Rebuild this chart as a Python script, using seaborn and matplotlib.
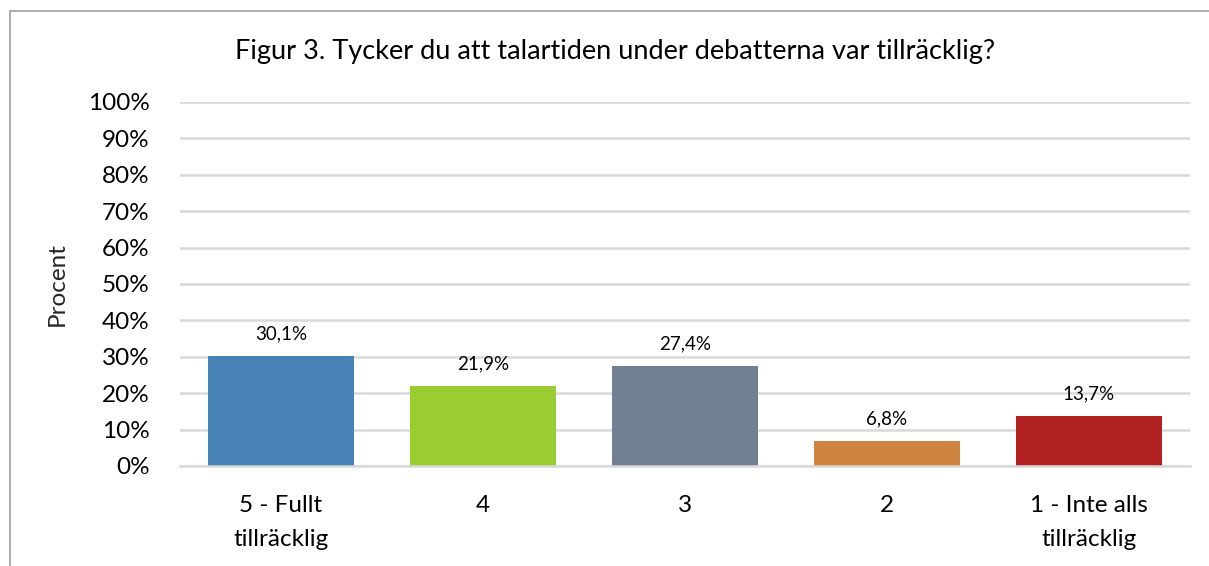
import matplotlib
matplotlib.use("Agg")
import matplotlib.pyplot as plt
import seaborn as sns
import pandas as pd
from matplotlib.ticker import FuncFormatter
from matplotlib.lines import Line2D

categories = ["5 - Fullt\ntillräcklig", "4", "3", "2", "1 - Inte alls\ntillräcklig"]
values = [30.1, 21.9, 27.4, 6.8, 13.7]
value_labels = ["30,1%", "21,9%", "27,4%", "6,8%", "13,7%"]
colors = ["#4682B4", "#9ACD32", "#708090", "#CD853F", "#B22222"]
title = "Figur 3. Tycker du att talartiden under debatterna var tillräcklig?"
ylabel = "Procent"

sns.set_theme(style="white")
plt.rcParams["font.family"] = ["Lato", "DejaVu Sans"]

df = pd.DataFrame({"cat": categories, "val": values})

fig = plt.figure(figsize=(12.09, 5.66), dpi=100)
ax = fig.add_axes([180/1209, 1-466/566, 1010/1209, 364/566])

sns.barplot(data=df, x="cat", y="val", hue="cat", palette=colors, legend=False,
            width=0.72, ax=ax, saturation=1, linewidth=0, edgecolor="none")

ax.set_ylim(0, 100)
ax.set_xlim(-0.5, 4.5)
ax.set_yticks(range(0, 101, 10))
ax.yaxis.set_major_formatter(FuncFormatter(lambda v, p: f"{int(v)}%"))
ax.grid(axis="y", color="#D9D9D9", linewidth=1.8)
ax.set_axisbelow(True)
for s in ["top", "right", "left"]:
    ax.spines[s].set_visible(False)
ax.spines["bottom"].set_color("#D9D9D9")
ax.spines["bottom"].set_linewidth(1.8)
ax.tick_params(axis="y", labelsize=17.5, pad=22, length=0, colors="black")
ax.tick_params(axis="x", labelsize=17.5, pad=21, length=0, colors="black")
for t in ax.get_xticklabels():
    t.set_linespacing(1.75)
ax.set_xlabel("")
ax.set_ylabel(ylabel, fontsize=17.5, labelpad=14)

for i, (v, lab) in enumerate(zip(values, value_labels)):
    ax.annotate(lab, (i, v), xytext=(0, 16), textcoords="offset points",
                ha="center", va="center", fontsize=13.5, color="black")

fig.text(615/1209, 1-52/566, title, ha="center", va="center", fontsize=19.5, color="black")

# outer frame (left and top only, as in reference)
fig.add_artist(Line2D([10/1209, 10/1209], [0, 1-11/566], transform=fig.transFigure,
                      color="#A0A0A0", linewidth=1.2))
fig.add_artist(Line2D([10/1209, 1], [1-11/566, 1-11/566], transform=fig.transFigure,
                      color="#A0A0A0", linewidth=1.2))

fig.savefig("out.png", dpi=100)
